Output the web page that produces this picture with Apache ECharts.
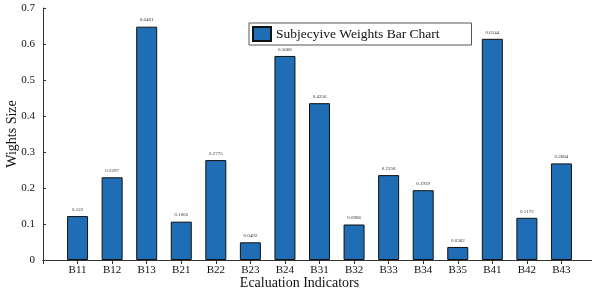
<!DOCTYPE html>
<html>
<head>
<meta charset="utf-8">
<script src="https://cdn.jsdelivr.net/npm/echarts@6/dist/echarts.min.js"></script>
<style>
  html, body { margin: 0; padding: 0; background: #fff; }
  #chart { width: 592px; height: 295px; }
</style>
</head>
<body>
<div id="chart"></div>
<script>
// chart data
const categories = ["B11", "B12", "B13", "B21", "B22", "B23", "B24", "B31", "B32", "B33", "B34", "B35", "B41", "B42", "B43"];
const weights = [0.122, 0.2297, 0.6481, 0.1065, 0.2775, 0.0492, 0.5668, 0.4356, 0.0986, 0.2358, 0.1939, 0.0362, 0.6144, 0.1172, 0.2684];
const yTicks = [0, 0.1, 0.2, 0.3, 0.4, 0.5, 0.6, 0.7];

// matlab style: one empty slot at each end of the x range
const xData = [""].concat(categories, [""]);
const yData = ["-"].concat(weights, ["-"]);

const serif = "Liberation Serif";
const axisColor = "#333";

const chart = echarts.init(document.getElementById("chart"));

const option = {
  animation: false,
  textStyle: { fontFamily: serif },
  grid: { left: 43, right: -4, top: 8, bottom: 35, containLabel: false, outerBoundsMode: "none" },
  legend: {
    data: ["Subjecyive Weights Bar Chart"],
    left: 249,
    top: 23,
    padding: [3, 32, 3, 3],
    icon: "rect",
    itemWidth: 18,
    itemHeight: 14,
    backgroundColor: "#fff",
    borderColor: "#555",
    borderWidth: 1,
    textStyle: { fontFamily: serif, fontSize: 13.5, color: "#111" },
  },
  xAxis: [
    {
      type: "category",
      data: xData,
      boundaryGap: false,
      name: "Ecaluation Indicators",
      nameLocation: "middle",
      nameGap: 16,
      nameMoveOverlap: false,
      nameTextStyle: { fontFamily: serif, fontSize: 14, color: "#111", padding: [0, 40, 0, 0] },
      axisLine: { lineStyle: { color: axisColor, width: 1 } },
      axisTick: { inside: true, length: 4, lineStyle: { color: axisColor } },
      axisLabel: { fontFamily: serif, fontSize: 11, color: "#111", margin: 5, interval: 0 },
      splitLine: { show: false },
    },
    {
      type: "category",
      data: xData,
      boundaryGap: false,
      position: "top",
      axisLine: { lineStyle: { color: axisColor, width: 1 } },
      axisTick: { inside: true, length: 4, lineStyle: { color: axisColor } },
      axisLabel: { show: false },
    },
  ],
  yAxis: [
    {
      type: "value",
      min: 0,
      max: 0.7,
      interval: 0.1,
      name: "Wights Size",
      nameLocation: "middle",
      nameGap: 24,
      nameMoveOverlap: false,
      nameTextStyle: { fontFamily: serif, fontSize: 14, color: "#111" },
      axisLine: { show: true, lineStyle: { color: axisColor, width: 1 } },
      axisTick: { show: true, inside: true, length: 3, lineStyle: { color: axisColor } },
      axisLabel: {
        fontFamily: serif, fontSize: 11, color: "#111", margin: 8,
        formatter: (v) => (yTicks.indexOf(Math.round(v * 10) / 10) >= 0 ? String(Math.round(v * 10) / 10) : ""),
      },
      splitLine: { show: false },
    },
    {
      type: "value",
      min: 0,
      max: 0.7,
      interval: 0.1,
      position: "right",
      axisLine: { show: true, lineStyle: { color: axisColor, width: 1 } },
      axisTick: { show: true, inside: true, length: 3, lineStyle: { color: axisColor } },
      axisLabel: { show: false },
      splitLine: { show: false },
    },
  ],
  series: [
    {
      name: "Subjecyive Weights Bar Chart",
      type: "bar",
      data: yData,
      barWidth: 21,
      itemStyle: { color: "#1f6eb5", borderColor: "#111", borderWidth: 1 },
      label: {
        show: true,
        position: "top",
        distance: 4,
        fontFamily: serif,
        fontSize: 5,
        color: "#333",
        formatter: (p) => String(p.value),
      },
    },
  ],
};

chart.setOption(option);
</script>
</body>
</html>
